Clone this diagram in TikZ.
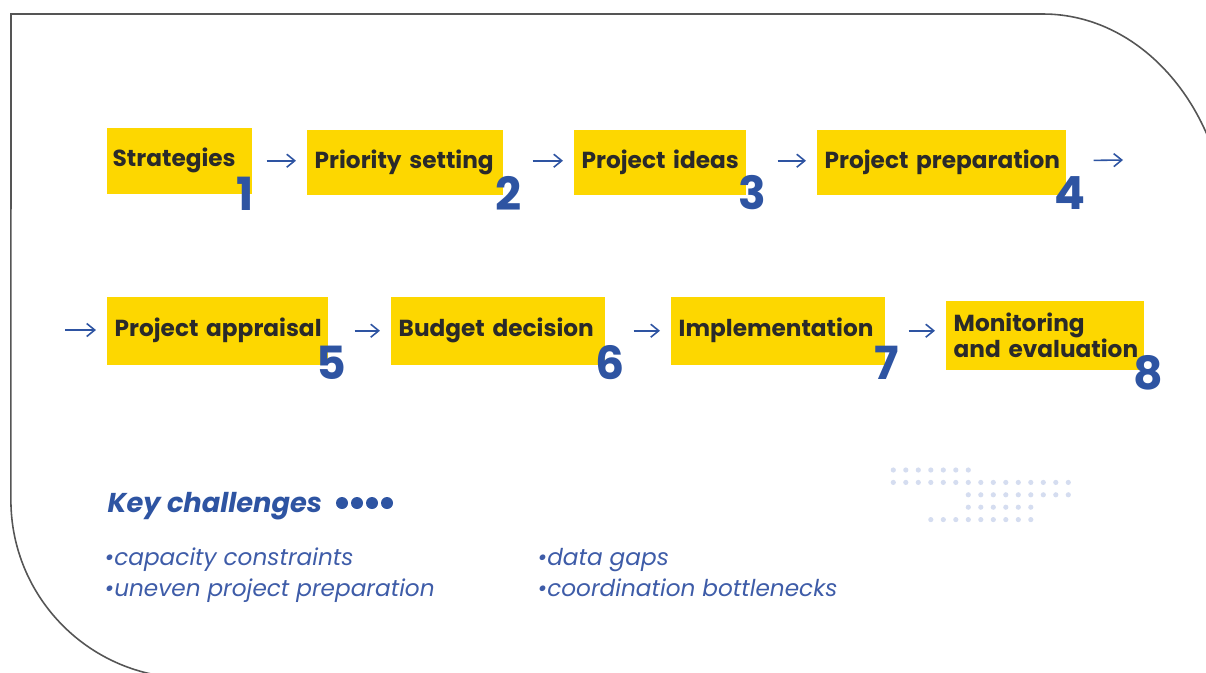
\documentclass[tikz,border=0pt]{standalone}
\usepackage{fontspec}
\setmainfont{Poppins}
\usetikzlibrary{arrows.meta,calc}
\definecolor{stageyellow}{HTML}{FDD700}
\definecolor{numblue}{HTML}{2E54A2}
\definecolor{darktext}{HTML}{2A2A2A}
\definecolor{listblue}{HTML}{3E5CA8}
\definecolor{dotblue}{HTML}{D5DDF0}
\definecolor{framegrey}{HTML}{555555}
\tikzset{
	stage/.style={fill=stageyellow, anchor=north west, align=left, inner xsep=0.08cm, inner ysep=0pt, text=darktext, font=\fontsize{6.6}{7.4}\selectfont\bfseries, execute at begin node={\hyphenpenalty=10000\relax}},
	stagenum/.style={text=numblue, inner sep=0pt, font=\fontsize{13}{13}\selectfont\bfseries},
	flow/.style={draw=numblue, line width=0.45pt, -{Straight Barb[length=0.8mm,width=1.3mm]}, shorten >=0.1cm},
	frame/.style={draw=framegrey, line width=0.45pt},
	keyhead/.style={text=numblue, inner sep=0pt, anchor=base west, font=\fontsize{7.75}{8}\selectfont\bfseries\itshape},
	listitem/.style={text=listblue, inner sep=0pt, anchor=base west, font=\fontsize{6.6}{7}\selectfont\itshape},
}

\begin{document}
\begin{tikzpicture}[x=0.01cm, y=-0.01cm]
		%%%%% START %%%%%
		\useasboundingbox (0,0) rectangle (1206,672);
		
		\begin{scope}
			\clip (0,0) rectangle (1206,672);
			\draw[frame] (189,678) arc[start angle=270, end angle=180, radius=1.78cm] -- (11,14) -- (1043,14) arc[start angle=90, end angle=0, x radius=1.85cm, y radius=2.25cm];
		\end{scope}
		
		% first row
		\node[stage, inner xsep=0.06cm, text width=1.33cm, minimum height=0.66cm] (s1) at (106,127) {Strategies};
		\node[stage, text width=1.80cm, minimum height=0.65cm] (s2) at (306,129) {Priority~setting};
		\node[stage, text width=1.56cm, minimum height=0.65cm] (s3) at (573,129) {Project~ideas};
		\node[stage, text width=2.33cm, minimum height=0.65cm] (s4) at (816,129) {Project~preparation};
		
		% second row
		\node[stage, text width=2.05cm, minimum height=0.68cm] (s5) at (106,296) {Project~appraisal};
		\node[stage, text width=1.98cm, minimum height=0.68cm] (s6) at (390,296) {Budget~decision};
		\node[stage, text width=1.98cm, minimum height=0.68cm] (s7) at (670,296) {Implementation};
		\node[stage, text width=1.82cm, minimum height=0.69cm] (s8) at (945,300) {Monitoring\\and~evaluation};
		
		\node[stagenum] (n1) at ([shift={(-7,-1)}]s1.south east) {1};
		\node[stagenum] (n2) at ([shift={(5,-2)}]s2.south east) {2};
		\node[stagenum] (n3) at ([shift={(6,-3)}]s3.south east) {3};
		\node[stagenum] (n4) at ([shift={(3,-2)}]s4.south east) {4};
		\node[stagenum] (n5) at ([shift={(3,-3)}]s5.south east) {5};
		\node[stagenum] (n6) at ([shift={(5,-3)}]s6.south east) {6};
		\node[stagenum] (n7) at ([shift={(1,-3)}]s7.south east) {7};
		\node[stagenum] (n8) at ([shift={(4,2)}]s8.south east) {8};
		
		\coordinate (wrapout) at (1123,160);
		\coordinate (wrapin) at (65,330);
		
		\draw[flow, shorten <=0.14cm] (s1.east) -- (s1.east -| s2.west);
		\draw[flow, shorten <=0.29cm] (s2.east |- s1.east) -- (s1.east -| s3.west);
		\draw[flow, shorten <=0.31cm] (s3.east |- s1.east) -- (s1.east -| s4.west);
		\draw[flow, shorten <=0.27cm, shorten >=0cm] (s4.east |- s1.east) -- (wrapout);
		\draw[flow] (wrapin) -- (wrapin -| s5.west);
		\draw[flow, shorten <=0.26cm] (s5.east) -- (s5.east -| s6.west);
		\draw[flow, shorten <=0.28cm] (s6.east) -- (s6.east -| s7.west);
		\draw[flow, shorten <=0.23cm] (s7.east) -- (s7.east -| s8.west);
		
		% challenges
		\node[keyhead] (key) at (107,512) {Key challenges};
		\foreach \dx in {342,357,372,387}
			\fill[numblue] (\dx,503) circle (0.06cm);
		
		\node[listitem] (c1) at (104,565) {•capacity constraints};
		\node[listitem] (c2) at (104,596) {•uneven project preparation};
		\node[listitem] (c3) at (537,565) {•data gaps};
		\node[listitem] (c4) at (537,596) {•coordination bottlenecks};
		
		% dot grid
		\foreach \i in {0,...,6}
			\fill[dotblue] ({893.3+12.5*\i},470) circle (0.026cm);
		\foreach \i in {0,...,14}
			\fill[dotblue] ({893.3+12.5*\i},482.4) circle (0.026cm);
		\foreach \i in {6,...,14}
			\fill[dotblue] ({893.3+12.5*\i},494.8) circle (0.026cm);
		\foreach \i in {6,...,11}
			\fill[dotblue] ({893.3+12.5*\i},507.2) circle (0.026cm);
		\foreach \i in {3,...,11}
			\fill[dotblue] ({893.3+12.5*\i},519.6) circle (0.026cm);
		
		%%%%% END %%%%%
\end{tikzpicture}
\end{document}
